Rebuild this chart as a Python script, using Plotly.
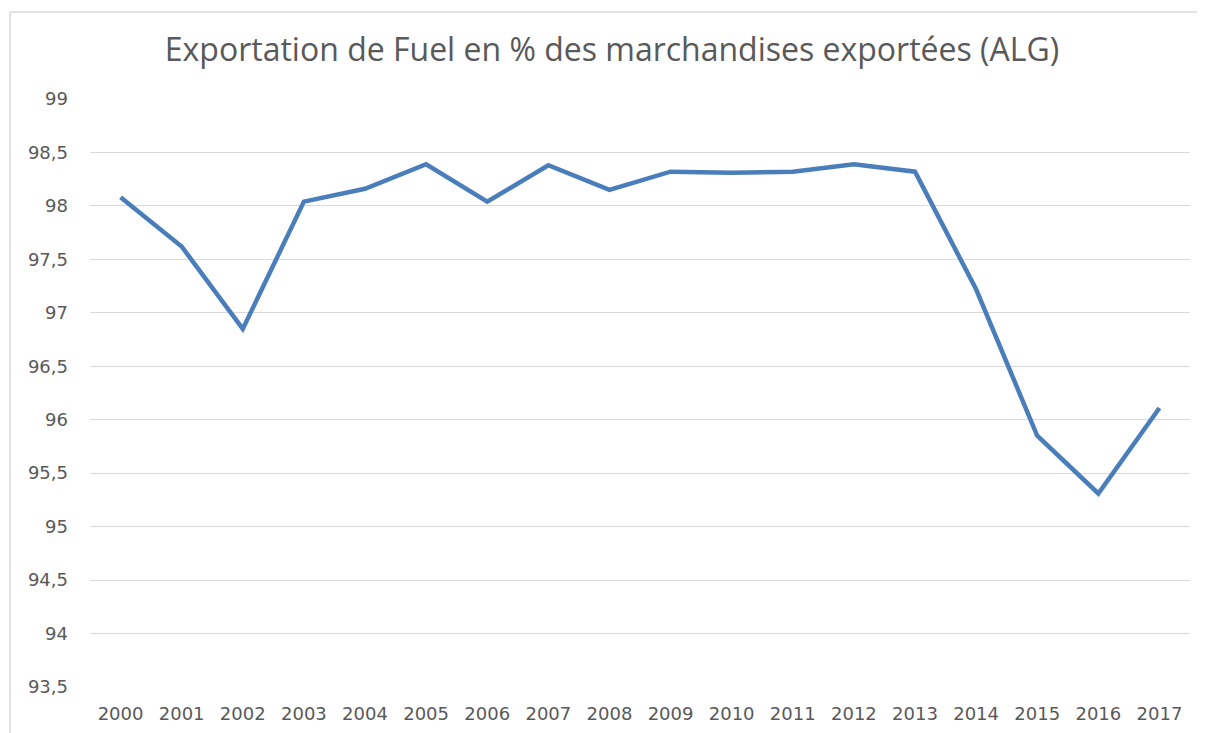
import plotly.graph_objects as go

years = [str(y) for y in range(2000, 2018)]
fuel_pct = [98.08, 97.62, 96.85, 98.04, 98.16, 98.39, 98.04, 98.38, 98.15,
            98.32, 98.31, 98.32, 98.39, 98.32, 97.22, 95.85, 95.31, 96.11]
title_text = "Exportation de Fuel en % des marchandises exportées (ALG)"

fig = go.Figure()
fig.add_trace(go.Scatter(
    x=years, y=fuel_pct, mode="lines",
    line=dict(color="#4A7EBB", width=4.5),
    hoverinfo="x+y",
))

border = dict(color="#D9D9D9", width=1.5)
fig.update_layout(
    width=1205, height=733,
    paper_bgcolor="white", plot_bgcolor="white",
    margin=dict(l=82, r=23, t=91, b=54),
    separators=", ",
    showlegend=False,
    title=dict(text=title_text, x=604 / 1205, xanchor="center", y=1 - 42 / 733, yanchor="middle",
               font=dict(family="Open Sans, sans-serif", size=32, color="#595959")),
    font=dict(family="DejaVu Sans, sans-serif", color="#595959"),
    shapes=[
        dict(type="line", xref="paper", yref="paper", x0=-0.0727, x1=1.3, y0=1.148, y1=1.148,
             line=border, layer="below"),
        dict(type="line", xref="paper", yref="paper", x0=-0.0727, x1=-0.0727, y0=-0.3, y1=1.148,
             line=border, layer="below"),
    ],
)
fig.update_xaxes(
    type="category", range=[-0.5, 17.5], showgrid=False, zeroline=False, showline=False,
    ticks="", ticklabelstandoff=14, tickfont=dict(size=18, color="#595959"),
)
fig.update_yaxes(
    range=[93.5, 99], dtick=0.5, tick0=93.5,
    showgrid=True, gridcolor="#D9D9D9", gridwidth=1.3,
    zeroline=False, showline=False, ticks="", ticklabelstandoff=21,
    tickfont=dict(size=18, color="#595959"),
)

fig.write_html("out.html")
